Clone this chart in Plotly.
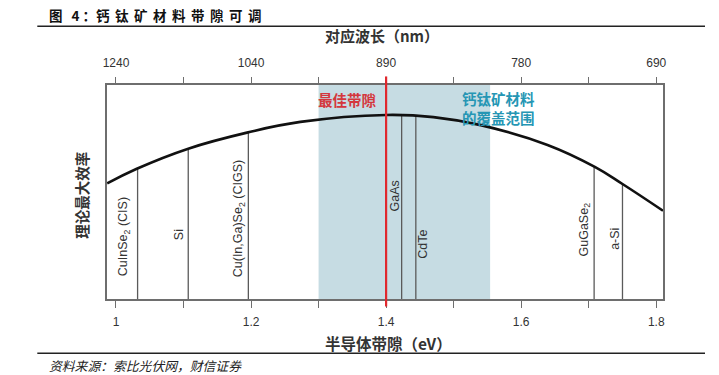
import plotly.graph_objects as go

# ---------------- data ----------------
curve_bandgap = [0.987, 1.03, 1.107, 1.194, 1.273, 1.40, 1.47, 1.54, 1.639, 1.709, 1.75, 1.81]
curve_eff = [21.6, 24.3, 28.1, 31.1, 33.1, 34.4, 34.0, 32.5, 28.8, 24.7, 21.5, 16.5]

materials = ["CuInSe<sub>2</sub> (CIS)", "Si", "Cu(In,Ga)Se<sub>2</sub> (CIGS)", "GaAs", "CdTe",
             "GuGaSe<sub>2</sub>", "a-Si"]
material_bandgap = [1.032, 1.107, 1.196, 1.423, 1.444, 1.708, 1.75]
material_eff = [24.4, 28.1, 31.1, 34.38, 34.27, 24.75, 21.5]

best_bandgap = 1.40
perovskite_range = [1.30, 1.554]

tick_vals = [1.0, 1.1, 1.2, 1.3, 1.4, 1.5, 1.6, 1.7, 1.8]
bottom_tick_text = ["1", "", "1.2", "", "1.4", "", "1.6", "", "1.8"]
top_tick_text = ["1240", "", "1040", "", "890", "", "780", "", "690"]

# --------------- layout geometry ---------------
W, H = 719, 375
ML, MR, MT, MB = 107, 56, 85, 76
PW, PH = W - ML - MR, H - MT - MB
X_RANGE = [0.9867, 1.810]
Y_RANGE = [0, 40]


def px(x, y):
    return (x - ML) / PW, (H - MB - y) / PH


# label placement (style): y-centre in data units, x shift in px
label_y = [11.67, 11.98, 14.97, 19.2, 10.31, 12.92, 11.24]
label_xshift = [-14, -9, -9, -6.5, 7, -9.5, -7.5]

CJK = "Noto Sans CJK SC"
LAT = "Liberation Sans, Arial, sans-serif"
FRAME = "#6e6e6e"

fig = go.Figure()

# material lines
for bg, ef in zip(material_bandgap, material_eff):
    fig.add_trace(go.Scatter(x=[bg, bg], y=[0, ef], mode="lines",
                             line=dict(color="#5a5a5a", width=1.3),
                             hoverinfo="skip", showlegend=False))

# efficiency curve
fig.add_trace(go.Scatter(x=curve_bandgap, y=curve_eff, mode="lines",
                         line=dict(color="#111111", width=2.6, shape="spline", smoothing=1.2),
                         showlegend=False))
# invisible trace to activate top axis
fig.add_trace(go.Scatter(x=curve_bandgap, y=curve_eff, mode="lines", xaxis="x2",
                         line=dict(color="rgba(0,0,0,0)", width=0),
                         hoverinfo="skip", showlegend=False))

shapes = [
    dict(type="rect", xref="x", yref="paper", x0=perovskite_range[0], x1=perovskite_range[1],
         y0=0, y1=1, fillcolor="#c6dce3", line=dict(width=0), layer="below"),
    dict(type="line", xref="x", yref="paper", x0=best_bandgap, x1=best_bandgap,
         y0=-0.035, y1=1.04, line=dict(color="#e0282e", width=2.2)),
]
# header and footer rules
for yy in (26.3, 353.3):
    x0, y0 = px(37.3, yy)
    x1, _ = px(705, yy)
    shapes.append(dict(type="line", xref="paper", yref="paper", x0=x0, x1=x1, y0=y0, y1=y0,
                       line=dict(color="#222222", width=1.5)))

annotations = []
for name, bg, ly, xs in zip(materials, material_bandgap, label_y, label_xshift):
    annotations.append(dict(x=bg, y=ly, xref="x", yref="y", text=name, showarrow=False,
                            textangle=-90, xshift=xs, xanchor="center", yanchor="middle",
                            font=dict(family=LAT, size=12.5, color="#333333")))


def add_text(text, x, y, size, color="#333333", family=CJK, xanchor="center", angle=0, weight="normal",
             style="normal"):
    xp, yp = px(x, y)
    annotations.append(dict(x=xp, y=yp, xref="paper", yref="paper", text=text, showarrow=False,
                            xanchor=xanchor, yanchor="middle", textangle=angle,
                            font=dict(family=family, size=size, color=color, weight=weight, style=style)))


add_text("<span style='letter-spacing:3px'>图 4</span>：<span style='letter-spacing:5.5px'>钙钛矿材料带隙可调</span>",
         47, 15, 13.5, color="#111111", xanchor="left", weight="bold")
add_text("资料来源：索比光伏网，财信证券", 47, 365, 12.8, color="#222222", xanchor="left", style="italic")
add_text("对应波长（nm）", 381.5, 36, 15, color="#333333", weight="bold")
add_text("半导体带隙（eV）", 388, 342.7, 15.5, color="#333333", weight="bold")
add_text("理论最大效率", 80.7, 195, 14.5, color="#333333", angle=-90, weight="bold")
add_text("最佳带隙", 347.3, 99.3, 14.5, color="#d4373d", weight="bold")
add_text("钙钛矿材料<br>的覆盖范围", 498.7, 108.2, 14.5, color="#2596b4", weight="bold")

axis_common = dict(range=X_RANGE, tickmode="array", tickvals=tick_vals, ticks="outside",
                   ticklen=7, tickwidth=1.3, tickcolor=FRAME, showgrid=False, zeroline=False,
                   tickfont=dict(family=LAT, size=12, color="#333333"))

fig.update_layout(
    width=W, height=H,
    margin=dict(l=ML, r=MR, t=MT, b=MB, pad=0),
    paper_bgcolor="white", plot_bgcolor="white",
    xaxis=dict(**axis_common, ticktext=bottom_tick_text, showline=True, linecolor=FRAME,
               linewidth=1.6, mirror=True, ticklabelstandoff=4),
    xaxis2=dict(**axis_common, ticktext=top_tick_text, overlaying="x", side="top",
                showline=False, ticklabelstandoff=5),
    yaxis=dict(range=Y_RANGE, showticklabels=False, ticks="", showgrid=False, zeroline=False,
               showline=True, linecolor=FRAME, linewidth=1.6, mirror=True),
    shapes=shapes,
    annotations=annotations,
    showlegend=False,
)

fig.write_html("out.html", config={"displayModeBar": False},
               post_script="document.body.style.margin='0';")
